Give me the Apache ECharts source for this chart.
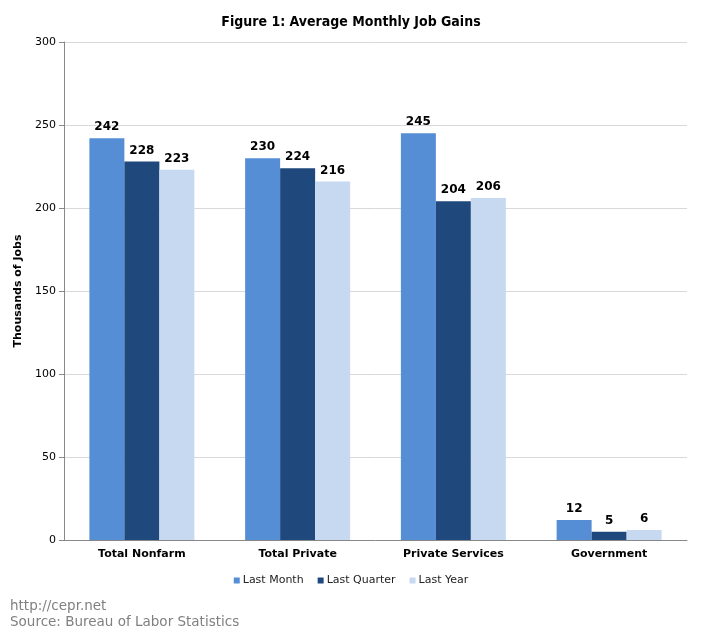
<!DOCTYPE html>
<html><head><meta charset="utf-8">
<script src="https://cdn.jsdelivr.net/npm/echarts@6/dist/echarts.min.js"></script>
<style>html,body{margin:0;padding:0;background:#fff}#c{width:702px;height:636px}</style>
</head><body><div id="c"></div>
<script>
const categories = ["Total Nonfarm", "Total Private", "Private Services", "Government"];
const lastMonth = [242, 230, 245, 12];
const lastQuarter = [228, 224, 204, 5];
const lastYear = [223, 216, 206, 6];
const seriesNames = ["Last Month", "Last Quarter", "Last Year"];
const colors = ["#558ED5", "#1F497D", "#C6D9F1"];

const chart = echarts.init(document.getElementById('c'), null, {renderer: 'canvas'});
const lbl = {show: true, position: 'top', distance: 5, color: '#000', fontFamily: 'DejaVu Sans', fontWeight: 'bold', fontSize: 12};
chart.setOption({
  animation: false,
  color: colors,
  title: [{
    text: 'Figure 1: Average Monthly Job Gains', left: 'center', top: 10,
    textStyle: {fontFamily: 'DejaVu Sans Condensed', fontWeight: 'bold', fontSize: 14, color: '#000'}
  }],
  graphic: [
    {type: 'text', left: 10, top: 598, style: {text: 'http://cepr.net\nSource: Bureau of Labor Statistics', fill: '#808080', font: '13.5px "DejaVu Sans"', lineHeight: 16}}
  ],
  legend: {
    data: seriesNames, left: 'center', top: 570, itemWidth: 6, itemHeight: 6, itemGap: 14,
    icon: 'rect', textStyle: {fontFamily: 'DejaVu Sans', fontSize: 11, color: '#222', padding: [0, 0, 0, -2]}
  },
  grid: {left: 64, right: 15, top: 42, bottom: 96, containLabel: false},
  xAxis: {
    type: 'category', data: categories,
    axisLine: {lineStyle: {color: '#888'}}, axisTick: {show: false},
    axisLabel: {color: '#000', fontFamily: 'DejaVu Sans', fontWeight: 'bold', fontSize: 11, margin: 9}
  },
  yAxis: {
    type: 'value', min: 0, max: 300, interval: 50,
    name: 'Thousands of Jobs', nameLocation: 'middle', nameGap: 40,
    nameTextStyle: {fontFamily: 'DejaVu Sans', fontWeight: 'bold', fontSize: 11, color: '#000'},
    axisLine: {show: true, lineStyle: {color: '#888'}},
    axisTick: {show: true, length: 5, lineStyle: {color: '#888'}},
    axisLabel: {color: '#000', fontFamily: 'DejaVu Sans', fontSize: 11, margin: 8},
    splitLine: {lineStyle: {color: '#d9d9d9'}}
  },
  series: [
    {name: seriesNames[0], type: 'bar', data: lastMonth, barWidth: 35, barGap: '0%', label: lbl},
    {name: seriesNames[1], type: 'bar', data: lastQuarter, barWidth: 35, barGap: '0%', label: lbl},
    {name: seriesNames[2], type: 'bar', data: lastYear, barWidth: 35, barGap: '0%', label: lbl}
  ]
});
</script></body></html>
